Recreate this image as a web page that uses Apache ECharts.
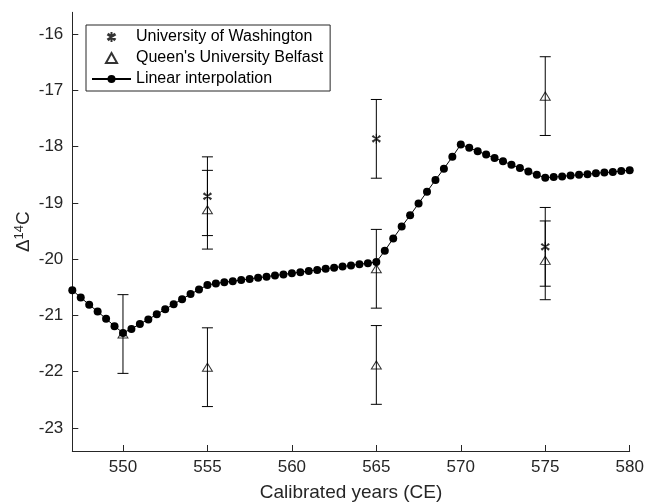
<!DOCTYPE html>
<html>
<head>
<meta charset="utf-8">
<script src="https://cdn.jsdelivr.net/npm/echarts@6/dist/echarts.min.js"></script>
<style>html,body{margin:0;padding:0;background:#fff}#c{width:646px;height:502px}</style>
</head>
<body>
<div id="c"></div>
<script>
const interpYears = [547,547.5,548,548.5,549,549.5,550,550.5,551,551.5,552,552.5,553,553.5,554,554.5,555,555.5,556,556.5,557,557.5,558,558.5,559,559.5,560,560.5,561,561.5,562,562.5,563,563.5,564,564.5,565,565.5,566,566.5,567,567.5,568,568.5,569,569.5,570,570.5,571,571.5,572,572.5,573,573.5,574,574.5,575,575.5,576,576.5,577,577.5,578,578.5,579,579.5,580];
const interpValues = [-20.55,-20.68,-20.81,-20.93,-21.06,-21.19,-21.31,-21.24,-21.15,-21.07,-20.98,-20.89,-20.80,-20.71,-20.62,-20.54,-20.46,-20.43,-20.41,-20.39,-20.37,-20.35,-20.33,-20.31,-20.29,-20.27,-20.25,-20.23,-20.21,-20.19,-20.17,-20.15,-20.13,-20.11,-20.09,-20.07,-20.05,-19.85,-19.63,-19.42,-19.22,-19.01,-18.80,-18.59,-18.39,-18.18,-17.96,-18.02,-18.08,-18.14,-18.20,-18.26,-18.32,-18.38,-18.44,-18.50,-18.55,-18.54,-18.53,-18.51,-18.50,-18.49,-18.47,-18.46,-18.45,-18.43,-18.42];

const uwYears = [555, 565, 575];
const uwValues = [-18.88, -17.86, -19.78];
const uwErrors = [0.70, 0.70, 0.70];

const qubYears = [550, 555, 555, 565, 565, 575, 575];
const qubValues = [-21.33, -21.92, -19.12, -20.17, -21.88, -17.10, -20.02];
const qubErrors = [0.70, 0.70, 0.70, 0.70, 0.70, 0.70, 0.70];

const xTicks = [550, 555, 560, 565, 570, 575, 580];
const yTicks = [-23, -22, -21, -20, -19, -18, -17, -16];

const FONT = 'Liberation Sans';
const AX = '#262626';

const zip3 = (a, b, c) => a.map((v, i) => [v, b[i], c[i]]);
const uwData = zip3(uwYears, uwValues, uwErrors);
const qubData = zip3(qubYears, qubValues, qubErrors);

function errRender(params, api) {
  const x = api.value(0), y = api.value(1), e = api.value(2);
  const top = api.coord([x, y + e]);
  const bot = api.coord([x, y - e]);
  const hw = 5.5;
  const st = { stroke: '#000', lineWidth: 1 };
  return {
    type: 'group',
    children: [
      { type: 'line', shape: { x1: top[0], y1: top[1], x2: bot[0], y2: bot[1] }, style: st },
      { type: 'line', shape: { x1: top[0] - hw, y1: top[1], x2: top[0] + hw, y2: top[1] }, style: st },
      { type: 'line', shape: { x1: bot[0] - hw, y1: bot[1], x2: bot[0] + hw, y2: bot[1] }, style: st }
    ]
  };
}

const asterisk = 'path://M5,0L5,10M0.7,2.5L9.3,7.5M0.7,7.5L9.3,2.5M1.5,1.5L8.5,8.5M1.5,8.5L8.5,1.5';
const triangle = 'path://M5,0L10,9L0,9Z';

const chart = echarts.init(document.getElementById('c'), null, { renderer: 'canvas' });
chart.setOption({
  animation: false,
  backgroundColor: '#fff',
  textStyle: { fontFamily: FONT },
  grid: { left: 72.3, right: 16.3, top: 12.3, bottom: 51, containLabel: false, outerBoundsMode: 'none' },
  legend: {
    orient: 'vertical',
    left: 86, top: 25,
    padding: [4, 7, 4, 5],
    itemGap: 5,
    itemWidth: 39, itemHeight: 10,
    symbolKeepAspect: true,
    borderColor: AX, borderWidth: 1,
    backgroundColor: '#fff',
    textStyle: { fontFamily: FONT, fontSize: 16, color: '#000' },
    data: ['University of Washington', "Queen's University Belfast", 'Linear interpolation']
  },
  xAxis: {
    type: 'value', min: 547, max: 580,
    name: 'Calibrated years (CE)', nameLocation: 'middle', nameGap: 32, nameMoveOverlap: false,
    nameTextStyle: { fontFamily: FONT, fontSize: 19, color: AX },
    axisLine: { show: true, lineStyle: { color: AX, width: 1 } },
    axisTick: { show: true, inside: true, length: 6, lineStyle: { color: AX }, customValues: xTicks },
    axisLabel: { fontFamily: FONT, fontSize: 17, color: AX, margin: 8, customValues: xTicks },
    splitLine: { show: false }
  },
  yAxis: {
    type: 'value', min: -23.41, max: -15.61,
    name: '{d|Δ}{s|14}{d|C}', nameLocation: 'middle', nameGap: 38, nameRotate: 90, nameMoveOverlap: false,
    nameTextStyle: {
      color: AX,
      rich: {
        d: { fontFamily: FONT, fontSize: 19, color: AX },
        s: { fontFamily: FONT, fontSize: 13, color: AX, verticalAlign: 'top', padding: [0, 0, 8, 0] }
      }
    },
    axisLine: { show: true, lineStyle: { color: AX, width: 1 } },
    axisTick: { show: true, inside: true, length: 6, lineStyle: { color: AX }, customValues: yTicks },
    axisLabel: { fontFamily: FONT, fontSize: 17, color: AX, margin: 9, customValues: yTicks },
    splitLine: { show: false }
  },
  series: [
    {
      type: 'custom', name: 'uwErr', renderItem: errRender, data: uwData,
      encode: { x: 0, y: [1, 2] }, z: 2, silent: true
    },
    {
      type: 'custom', name: 'qubErr', renderItem: errRender, data: qubData,
      encode: { x: 0, y: [1, 2] }, z: 2, silent: true
    },
    {
      type: 'line', name: 'Linear interpolation',
      data: interpYears.map((x, i) => [x, interpValues[i]]),
      symbol: 'circle', symbolSize: 8, showAllSymbol: true,
      lineStyle: { color: '#000', width: 1 },
      itemStyle: { color: '#000' }, z: 3
    },
    {
      type: 'scatter', name: 'University of Washington',
      data: uwData.map(d => [d[0], d[1]]),
      symbol: asterisk, symbolSize: 10, symbolKeepAspect: true,
      itemStyle: { color: 'none', borderColor: '#000', borderWidth: 1.2 }, z: 4
    },
    {
      type: 'scatter', name: "Queen's University Belfast",
      data: qubData.map(d => [d[0], d[1]]),
      symbol: triangle, symbolSize: [10, 9], symbolKeepAspect: true,
      itemStyle: { color: 'rgba(255,255,255,0)', borderColor: '#000', borderWidth: 1 }, z: 4
    }
  ]
});
</script>
</body>
</html>
